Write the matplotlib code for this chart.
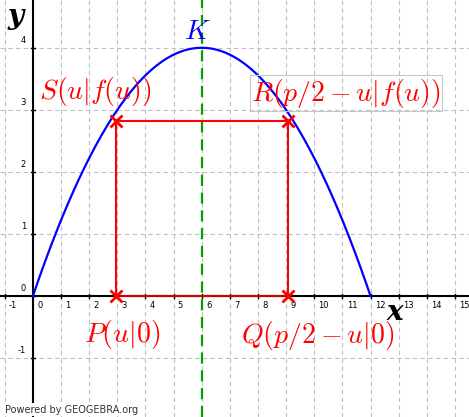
import numpy as np
import matplotlib
matplotlib.use("Agg")
import matplotlib.pyplot as plt
plt.rcParams['mathtext.fontset'] = 'cm'

vertex_x, vertex_y, root_r = 6.0, 4.0, 12.0
u, fu = 2.95, 2.82
q = 9.05
xticks = list(range(-1, 16))
yticks = [-1, 0, 1, 2, 3, 4]

fig = plt.figure(figsize=(4.69, 4.17), dpi=100)
ax = fig.add_axes([0, 0, 1, 1])
ax.set_xlim(-1.17, 15.5)
ax.set_ylim(-1.95, 4.77)
ax.axis('off')
for t in xticks:
    ax.axvline(t, color='#c0c0c0', lw=0.8, ls=(0, (4, 3)), zorder=0)
for t in yticks:
    ax.axhline(t, color='#c0c0c0', lw=0.8, ls=(0, (4, 3)), zorder=0)
ax.axhline(0, color='black', lw=1.5, zorder=1)
ax.axvline(0, color='black', lw=1.5, zorder=1)
for t in xticks:
    if t != 0:
        ax.plot([t, t], [-0.04, 0.04], color='black', lw=1, zorder=1)
    ax.text(t + 0.15 if t != 0 else 0.15, -0.08, str(t), fontsize=6, ha='left', va='top')
for t in yticks:
    ax.plot([-0.08, 0.08], [t, t], color='black', lw=1, zorder=1)
    ax.text(-0.25, t + 0.05, str(t), fontsize=6, ha='right', va='bottom')

xs = np.linspace(0, root_r, 300)
a = vertex_y / (vertex_x ** 2)
ax.plot(xs, vertex_y - a * (xs - vertex_x) ** 2, color='#0000ff', lw=1.6, zorder=3)
ax.axvline(vertex_x, color='#00a000', lw=1.6, ls=(0, (5, 3)), zorder=2)

red = '#ff0000'
ax.plot([u, u, q, q], [0, fu, fu, 0], color=red, lw=1.5, zorder=4)
ax.plot([u, q], [0, 0], color='#cc0000', lw=1.5, zorder=4)
ax.plot([u, q, u, q], [fu, fu, 0, 0], 'x', color=red, ms=9, mew=2, zorder=5)

mf = dict(fontsize=20, color=red)
ax.text(0.2, 3.3, r'$S(u|f(u))$', **mf, va='center')
ax.text(7.75, 3.27, r'$R(p/2-u|f(u))$', **mf, va='center',
        bbox=dict(facecolor='none', edgecolor='#c8c8c8', lw=0.8, pad=1))
ax.text(1.8, -0.62, r'$P(u|0)$', **mf, va='center')
ax.text(7.4, -0.64, r'$Q(p/2-u|0)$', **mf, va='center')
ax.text(5.85, 4.27, r'$K$', fontsize=20, color='#0000ff', ha='center', va='center')
ax.text(-0.6, 4.5, 'y', fontsize=20, family='DejaVu Serif', weight='bold', style='italic', ha='center', va='center')
ax.text(12.85, -0.27, 'x', fontsize=20, family='DejaVu Serif', weight='bold', style='italic', ha='center', va='center')
ax.text(0.01, 0.01, 'Powered by GEOGEBRA.org', transform=ax.transAxes, fontsize=7, color='#333333',
        bbox=dict(facecolor='white', edgecolor='none', pad=1))
fig.savefig('out.png', dpi=100)
